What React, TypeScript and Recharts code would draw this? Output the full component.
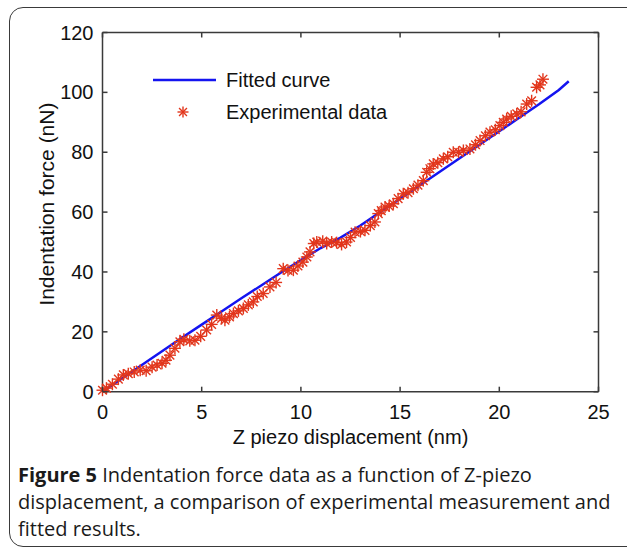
import React from 'react';
import { ComposedChart, Line, Scatter, XAxis, YAxis, Legend } from 'recharts';

// fitted curve (x in nm, y in nN)
const fitX = [0, 1, 2, 3, 4, 5, 6, 7, 8, 9, 10, 11, 12, 13, 14, 15, 16, 17, 18, 19, 20, 21, 22, 23, 23.5];
const fitY = [0, 4.5, 9, 13.5, 18, 22.4, 26.8, 31.2, 35.5, 39.8, 44, 48, 51.5, 55.5, 60, 64.5, 69, 73.5, 78, 82.5, 87, 91.5, 96, 100.8, 103.7];

// experimental points
const expX = [
  0.0, 0.2, 0.5, 0.8, 1.05, 1.3, 1.6, 1.9, 2.2, 2.5, 2.75, 3.0, 3.2, 3.4, 3.65, 3.9, 4.1, 4.4, 4.66, 4.95,
  5.25, 5.5, 5.76, 6.0, 6.17, 6.4, 6.6, 6.85, 7.1, 7.35, 7.6, 7.8, 8.1, 8.44, 8.75, 9.11, 9.35, 9.62, 9.85, 10.1,
  10.3, 10.46, 10.65, 10.8, 11.1, 11.3, 11.55, 11.8, 12.05, 12.3, 12.5, 12.73, 13.0, 13.23, 13.5, 13.73, 13.9, 14.05, 14.24, 14.45,
  14.66, 14.9, 15.16, 15.4, 15.67, 15.9, 16.17, 16.34, 16.5, 16.67, 16.9, 17.18, 17.4, 17.68, 17.95, 18.19, 18.52, 18.8, 19.03, 19.3,
  19.53, 19.8, 20.03, 20.2, 20.37, 20.6, 20.88, 21.1, 21.38, 21.63, 21.88, 22.05, 22.2,
];
const expY = [
  0.5, 1.2, 2.5, 4.2, 5.6, 6.0, 6.6, 7.2, 7.0, 8.2, 8.9, 9.5, 10.5, 12.2, 14.5, 16.7, 17.5, 17.0, 17.2, 18.5,
  20.6, 22.5, 25.6, 24.5, 23.9, 25.0, 26.1, 27.0, 27.8, 29.0, 30.0, 31.8, 32.8, 35.0, 36.5, 41.1, 40.5, 40.6, 42.0, 43.3,
  45.0, 46.7, 49.5, 50.0, 50.3, 49.5, 50.0, 49.8, 49.2, 50.0, 51.5, 53.3, 53.5, 53.9, 55.5, 56.7, 59.5, 60.5, 61.7, 62.0,
  62.8, 64.5, 66.1, 66.5, 67.8, 69.0, 70.5, 73.3, 74.5, 76.1, 76.5, 77.8, 78.5, 80.0, 80.0, 80.6, 81.1, 82.5, 83.9, 85.5,
  86.7, 87.5, 88.9, 90.0, 91.1, 92.0, 92.8, 93.5, 96.1, 97.2, 101.7, 102.5, 104.4,
];

const xTicks = [0, 5, 10, 15, 20, 25];
const yTicks = [0, 20, 40, 60, 80, 100, 120];

const fitData = fitX.map((x, i) => ({ x, y: fitY[i] }));
const expData = expX.map((x, i) => ({ x, y: expY[i] }));

const BLUE = '#1414f0';
const RED = '#e2361c';
const AXIS = '#3a3a3a';
const plotFont = "'Liberation Sans', Arial, sans-serif";
const TICK = 5;

const Star = ({ cx, cy, r = 6 }: any) => {
  if (cx == null || cy == null) return null;
  const d = r * 0.72;
  return (
    <g stroke={RED} strokeWidth={1.4}>
      <line x1={cx} y1={cy - r} x2={cx} y2={cy + r} />
      <line x1={cx - r} y1={cy} x2={cx + r} y2={cy} />
      <line x1={cx - d} y1={cy - d} x2={cx + d} y2={cy + d} />
      <line x1={cx - d} y1={cy + d} x2={cx + d} y2={cy - d} />
    </g>
  );
};

// ticks point into the plot box, matlab style
const LeftTick = ({ x, y, payload }: any) => (
  <g>
    <line x1={x} y1={y} x2={x + TICK} y2={y} stroke={AXIS} strokeWidth={1.5} />
    <text x={x - 9} y={y} dy="0.35em" textAnchor="end" fontFamily={plotFont} fontSize={20} fill="#111">
      {payload.value}
    </text>
  </g>
);
const BottomTick = ({ x, y, payload }: any) => (
  <g>
    <line x1={x} y1={y} x2={x} y2={y - TICK} stroke={AXIS} strokeWidth={1.5} />
    <text x={x} y={y + 20} dy="0.35em" textAnchor="middle" fontFamily={plotFont} fontSize={20} fill="#111">
      {payload.value}
    </text>
  </g>
);
const TopTick = ({ x, y }: any) => (
  <line x1={x} y1={y} x2={x} y2={y + TICK} stroke={AXIS} strokeWidth={1.5} />
);
const RightTick = ({ x, y }: any) => (
  <line x1={x} y1={y} x2={x - TICK} y2={y} stroke={AXIS} strokeWidth={1.5} />
);

const yTitle = (props: any) => {
  const vb = props.viewBox;
  const x = vb.x + 6;
  const y = vb.y + vb.height / 2 - 8;
  return (
    <text x={x} y={y} transform={`rotate(-90, ${x}, ${y})`} textAnchor="middle" dominantBaseline="central"
      fontFamily={plotFont} fontSize={21} fill="#111">
      Indentation force (nN)
    </text>
  );
};

const xTitle = (props: any) => {
  const vb = props.viewBox;
  return (
    <text x={vb.x + vb.width / 2} y={vb.y + 45} textAnchor="middle" dominantBaseline="central"
      fontFamily={plotFont} fontSize={20} fill="#111">
      Z piezo displacement (nm)
    </text>
  );
};

const renderLegend = () => (
  <div style={{ fontFamily: plotFont, fontSize: 20, color: '#111', lineHeight: '32px' }}>
    <div style={{ display: 'flex', alignItems: 'center', height: 32 }}>
      <svg width={76} height={32}>
        <line x1={3} y1={16} x2={66} y2={16} stroke={BLUE} strokeWidth={2.5} />
      </svg>
      <span>Fitted curve</span>
    </div>
    <div style={{ display: 'flex', alignItems: 'center', height: 32 }}>
      <svg width={76} height={32}>
        <Star cx={33} cy={16} r={5.5} />
      </svg>
      <span>Experimental data</span>
    </div>
  </div>
);

const App: React.FC = () => {
  return (
    <div style={{ position: 'absolute', left: 0, top: 0, width: 627, height: 549, overflow: 'hidden', background: '#fff' }}>
      <div style={{
        position: 'absolute', left: 9, top: 7, width: 660, height: 538,
        border: `1.5px solid ${AXIS}`, borderRadius: 14,
      }} />
      <div style={{ position: 'absolute', left: 0, top: 0 }}>
        <ComposedChart width={627} height={460} margin={{ top: 31.5, right: 27.5, left: 40.5, bottom: 18.3 }}>
          <XAxis dataKey="x" type="number" domain={[0, 25]} ticks={xTicks} height={50}
            stroke={AXIS} strokeWidth={1.5} tickSize={0} tickMargin={0} tickLine={false}
            tick={<BottomTick />} label={{ content: xTitle }} />
          <XAxis xAxisId="top" orientation="top" dataKey="x" type="number" domain={[0, 25]} ticks={xTicks} height={1}
            stroke={AXIS} strokeWidth={1.5} tickSize={0} tickMargin={0} tickLine={false} tick={<TopTick />} />
          <YAxis dataKey="y" type="number" domain={[0, 120]} ticks={yTicks} width={62}
            stroke={AXIS} strokeWidth={1.5} tickSize={0} tickMargin={0} tickLine={false}
            tick={<LeftTick />} label={{ content: yTitle }} />
          <YAxis yAxisId="right" orientation="right" dataKey="y" type="number" domain={[0, 120]} ticks={yTicks} width={1}
            stroke={AXIS} strokeWidth={1.5} tickSize={0} tickMargin={0} tickLine={false} tick={<RightTick />} />
          <Legend layout="vertical" align="center" verticalAlign="middle" content={renderLegend}
            wrapperStyle={{ position: 'absolute', left: 150, top: 64, width: 260 }} />
          {/* invisible series so the top / right frame axes get drawn */}
          <Line data={fitData} xAxisId="top" yAxisId="right" dataKey="y" stroke="none" dot={false}
            legendType="none" isAnimationActive={false} />
          <Line data={fitData} dataKey="y" type="linear" stroke={BLUE} strokeWidth={2.5} dot={false}
            isAnimationActive={false} legendType="line" />
          <Scatter data={expData} dataKey="y" shape={<Star />} isAnimationActive={false} />
        </ComposedChart>
      </div>
      <div style={{
        position: 'absolute', left: 18, top: 461, width: 609, whiteSpace: 'nowrap',
        fontFamily: "'Open Sans', 'Noto Sans', sans-serif", fontSize: 20, lineHeight: '27px', color: '#1a1a1a',
      }}>
        <div><b>Figure 5</b> Indentation force data as a function of Z-piezo</div>
        <div>displacement, a comparison of experimental measurement and</div>
        <div>fitted results.</div>
      </div>
    </div>
  );
};

export default App;
